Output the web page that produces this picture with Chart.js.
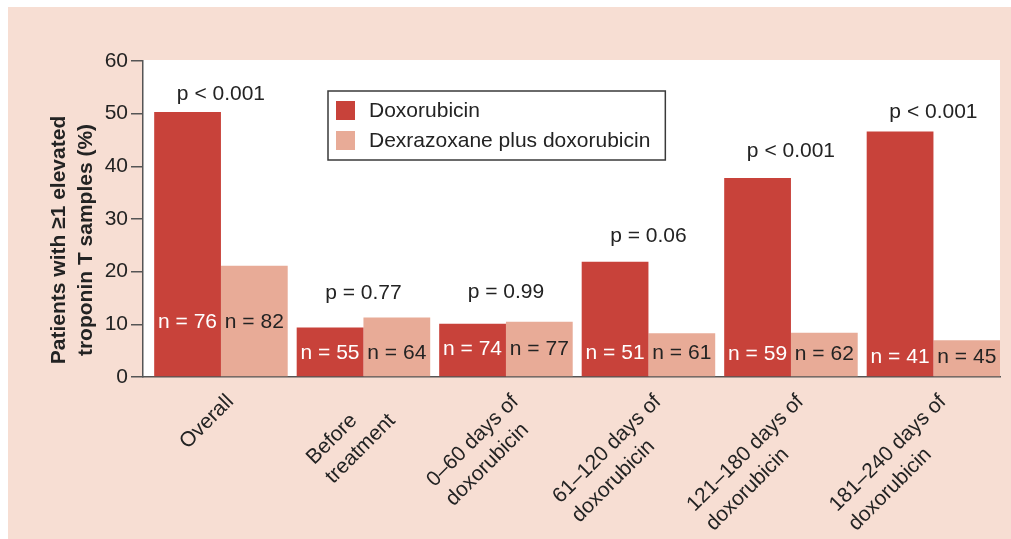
<!DOCTYPE html>
<html>
<head>
<meta charset="utf-8">
<script src="https://cdn.jsdelivr.net/npm/chart.js@4/dist/chart.umd.min.js"></script>
<style>
  html, body { margin: 0; padding: 0; background: #fff; }
  #wrap { width: 1011px; height: 539px; }
</style>
</head>
<body>
<div id="wrap"><canvas id="myChart" width="1011" height="539"></canvas></div>
<script>
// values read as % of patients with >=1 elevated troponin T sample
var categories = [
  ['Overall'],
  ['Before', 'treatment'],
  ['0–60 days of', 'doxorubicin'],
  ['61–120 days of', 'doxorubicin'],
  ['121–180 days of', 'doxorubicin'],
  ['181–240 days of', 'doxorubicin']
];
var doxorubicin = [50.3, 9.4, 10.1, 21.9, 37.8, 46.6];
var dexrazoxane = [21.1, 11.3, 10.5, 8.3, 8.4, 7.0];
var doxorubicinN = [76, 55, 74, 51, 59, 41];
var dexrazoxaneN = [82, 64, 77, 61, 62, 45];
var pValues = ['p < 0.001', 'p = 0.77', 'p = 0.99', 'p = 0.06', 'p < 0.001', 'p < 0.001'];
var yTicks = [0, 10, 20, 30, 40, 50, 60];

var RED = '#c8423a';
var PINK = '#e8ab97';
var INK = '#232323';
var FONT = '"Liberation Sans", Arial, Helvetica, sans-serif';

// how far (px) the n and p labels sit above the baseline / taller bar
var nLabelRise = [55, 24, 28, 24, 23, 20];
var pLabelRise = [18, 24, 29, 25, 27, 19];

var backdrop = {
  id: 'backdrop',
  beforeDraw: function(chart) {
    var c = chart.ctx, a = chart.chartArea;
    c.save();
    c.fillStyle = '#f7ded3';
    c.fillRect(8, 7, chart.width - 8, chart.height - 7);
    c.fillStyle = '#ffffff';
    c.fillRect(a.left, a.top - 1, a.right - a.left, a.bottom - a.top + 1);
    c.restore();
  }
};

var annotations = {
  id: 'annotations',
  afterDatasetsDraw: function(chart) {
    var c = chart.ctx, a = chart.chartArea;
    var m0 = chart.getDatasetMeta(0).data, m1 = chart.getDatasetMeta(1).data;
    var xs = chart.scales.x;
    c.save();
    c.font = '21px ' + FONT;
    c.textAlign = 'center';
    c.textBaseline = 'middle';

    // n counts inside the bars
    for (var i = 0; i < categories.length; i++) {
      c.fillStyle = '#ffffff';
      c.fillText('n = ' + doxorubicinN[i], m0[i].x, a.bottom - nLabelRise[i]);
      c.fillStyle = INK;
      c.fillText('n = ' + dexrazoxaneN[i], m1[i].x, a.bottom - nLabelRise[i]);
    }

    // p values over each pair
    c.fillStyle = INK;
    for (var i = 0; i < categories.length; i++) {
      var top = Math.min(m0[i].y, m1[i].y);
      c.fillText(pValues[i], xs.getPixelForValue(i), top - pLabelRise[i]);
    }

    // category labels, rotated 45 deg, lines left aligned in the block
    c.textAlign = 'left';
    c.textBaseline = 'top';
    for (var i = 0; i < categories.length; i++) {
      var lines = categories[i];
      var w = 0;
      lines.forEach(function(l) { w = Math.max(w, c.measureText(l).width); });
      c.save();
      c.translate(xs.getPixelForValue(i) + 2, a.bottom + 14);
      c.rotate(-Math.PI / 4);
      lines.forEach(function(l, k) { c.fillText(l, -w, k * 27); });
      c.restore();
    }

    // y axis title
    c.save();
    c.font = 'bold 21px ' + FONT;
    c.textAlign = 'center';
    c.textBaseline = 'middle';
    c.translate(a.left - 70.5, (a.top + a.bottom) / 2 + 21);
    c.rotate(-Math.PI / 2);
    c.fillText('Patients with ≥1 elevated', 0, -13.5);
    c.fillText('troponin T samples (%)', 0, 13.5);
    c.restore();

    // legend box
    var lx = a.left + 185, ly = a.top + 30;
    var sets = chart.data.datasets;
    var tw = 0;
    sets.forEach(function(s) { tw = Math.max(tw, c.measureText(s.label).width); });
    c.strokeStyle = '#3a3a3a';
    c.lineWidth = 1.5;
    c.strokeRect(lx, ly, tw + 56, 69);
    c.textAlign = 'left';
    c.textBaseline = 'middle';
    sets.forEach(function(s, k) {
      c.fillStyle = s.backgroundColor;
      c.fillRect(lx + 8, ly + 10 + k * 30, 19, 19);
      c.fillStyle = INK;
      c.fillText(s.label, lx + 41, ly + 20 + k * 30);
    });
    c.restore();
  }
};

var ctx = document.getElementById('myChart').getContext('2d');
var myChart = new Chart(ctx, {
  type: 'bar',
  data: {
    datasets: [{
      label: 'Doxorubicin',
      data: doxorubicin.map(function(v, i) { return {x: i, y: v}; }),
      backgroundColor: RED,
      borderWidth: 0
    }, {
      label: 'Dexrazoxane plus doxorubicin',
      data: dexrazoxane.map(function(v, i) { return {x: i, y: v}; }),
      backgroundColor: PINK,
      borderWidth: 0
    }]
  },
  options: {
    responsive: false,
    animation: false,
    categoryPercentage: 0.937,
    barPercentage: 1,
    layout: { padding: { left: 0, top: 61, right: 11, bottom: 162 } },
    plugins: {
      legend: { display: false },
      tooltip: { enabled: false }
    },
    scales: {
      x: {
        type: 'linear',
        offset: false,
        bounds: 'data',
        min: -0.547,
        max: 5.467,
        afterBuildTicks: function(scale) {
          scale.ticks = categories.map(function(c, i) { return {value: i}; });
        },
        grid: { display: false, drawTicks: false, offset: false },
        ticks: { display: false },
        border: { display: true, color: '#555', width: 1.5 }
      },
      y: {
        min: 0,
        max: 60,
        afterFit: function(scale) { scale.width = 143; },
        afterBuildTicks: function(scale) {
          scale.ticks = yTicks.map(function(v) { return {value: v}; });
        },
        grid: { drawOnChartArea: false, drawTicks: true, tickLength: 12, color: '#555', lineWidth: 1.5 },
        border: { display: true, color: '#555', width: 1.5 },
        ticks: { padding: 3, color: INK, font: { size: 21, family: FONT } }
      }
    }
  },
  plugins: [backdrop, annotations]
});
</script>
</body>
</html>
